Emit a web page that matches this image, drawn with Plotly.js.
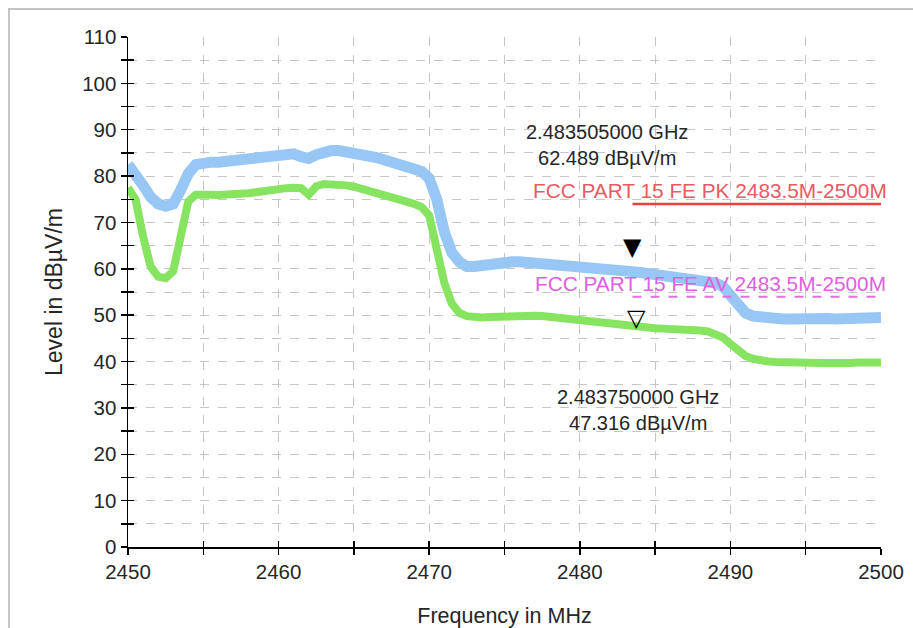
<!DOCTYPE html>
<html>
<head>
<meta charset="utf-8">
<script src="https://cdn.plot.ly/plotly-3.0.1.min.js"></script>
<style>html,body{margin:0;padding:0;background:#fff;}#chart{width:913px;height:628px;}</style>
</head>
<body>
<div id="chart"></div>
<script>
// Frequency grid of the sweep (MHz)
const freqStart = 2450;
const freqStep = 0.5;

// Peak detector trace (dBµV/m), one value every 0.5 MHz from 2450 to 2500
const peakLevel = [
  82.5, 80.5, 78.0, 75.5, 74.0, 73.5, 74.0, 77.0, 80.5, 82.5,
  83.0, 83.0, 83.0, 83.2, 83.3, 83.5, 83.8, 84.0, 84.2, 84.5,
  84.7, 84.8, 84.8, 84.2, 83.8, 84.6, 85.3, 85.5, 85.5, 85.3,
  85.0, 84.8, 84.5, 84.0, 83.5, 83.0, 82.6, 82.2, 81.7, 81.0,
  79.5, 75.0, 68.0, 63.5, 61.5, 60.5, 60.5, 60.8, 61.0, 61.2,
  61.3, 61.5, 61.5, 61.4, 61.3, 61.2, 61.0, 61.0, 60.8, 60.6,
  60.5, 60.3, 60.2, 60.0, 59.8, 59.6, 59.5, 59.4, 59.2, 59.0,
  58.8, 58.6, 58.4, 58.2, 58.0, 57.8, 57.6, 57.4, 57.0, 56.2,
  54.5, 52.0, 50.5, 49.8, 49.5, 49.4, 49.3, 49.2, 49.2, 49.3,
  49.2, 49.1, 49.2, 49.3, 49.2, 49.3, 49.4, 49.3, 49.4, 49.5,
  49.5
];

// Average detector trace (dBµV/m)
const avgLevel = [
  77.5, 75.0, 67.0, 60.5, 58.3, 58.0, 59.5, 68.0, 74.5, 76.0,
  76.2, 76.0, 75.9, 75.9, 76.0, 76.1, 76.3, 76.5, 76.8, 77.0,
  77.2, 77.4, 77.5, 77.4, 76.0, 77.8, 78.3, 78.3, 78.2, 78.0,
  77.7, 77.3, 76.9, 76.5, 76.0, 75.5, 75.0, 74.5, 74.0, 73.3,
  71.5, 64.0, 57.0, 52.5, 50.5, 49.8, 49.5, 49.5, 49.6, 49.7,
  49.8, 49.9, 50.0, 50.0, 49.9, 49.8, 49.6, 49.4, 49.2, 49.0,
  48.8, 48.6, 48.4, 48.2, 48.0, 47.8, 47.6, 47.4, 47.3, 47.3,
  47.2, 47.1, 47.1, 47.0, 46.9, 46.8, 46.7, 46.5, 46.0, 45.2,
  43.8, 42.2, 41.2, 40.6, 40.2, 40.0, 39.9, 39.8, 39.8, 39.7,
  39.7, 39.6, 39.7, 39.7, 39.6, 39.7, 39.7, 39.8, 39.7, 39.8,
  39.8
];

// Limit lines
const limitFreq = [2483.5, 2500];
const pkLimit = [74, 74];
const avLimit = [54, 54];
const pkLimitLabel = 'FCC PART 15 FE PK 2483.5M-2500M';
const avLimitLabel = 'FCC PART 15 FE AV 2483.5M-2500M';

// Markers
const mk1Freq = 2483.505, mk1Level = 62.489;
const mk2Freq = 2483.750, mk2Level = 47.316;
const mk1Label = '2.483505000 GHz<br>62.489 dBµV/m';
const mk2Label = '2.483750000 GHz<br>47.316 dBµV/m';

// Axes
const xRange = [2450, 2500];
const yRange = [0, 110];
const xTitle = 'Frequency in MHz';
const yTitle = 'Level in dBµV/m';

const FONT = 'Liberation Sans, Arial, sans-serif';
const SYM = 'DejaVu Sans, sans-serif';
const GRID = '#c6c6c6';
const TXT = '#262626';

const traces = [
  {x0: freqStart, dx: freqStep, y: peakLevel, type: 'scatter', mode: 'lines',
   line: {color: '#98c7f5', width: 11}, hoverinfo: 'skip'},
  {x0: freqStart, dx: freqStep, y: avgLevel, type: 'scatter', mode: 'lines',
   line: {color: '#86e460', width: 8}, hoverinfo: 'skip'},
  {x: limitFreq, y: pkLimit, type: 'scatter', mode: 'lines',
   line: {color: '#e8403a', width: 2.5}, hoverinfo: 'skip'},
  {x: limitFreq, y: avLimit, type: 'scatter', mode: 'lines',
   line: {color: '#e070e0', width: 2, dash: 'dash'}, hoverinfo: 'skip'},
  // helper trace for the overlay axes that draw the inner half of the tick marks
  {x: limitFreq, y: pkLimit, xaxis: 'x2', yaxis: 'y2', type: 'scatter', mode: 'lines',
   opacity: 0, line: {width: 1}, hoverinfo: 'skip'}
];

const layout = {
  width: 913, height: 628,
  margin: {l: 128, r: 32, t: 37, b: 81},
  paper_bgcolor: '#ffffff', plot_bgcolor: '#ffffff',
  showlegend: false,
  font: {family: FONT, color: TXT},
  xaxis: {
    range: xRange, tick0: 2450, dtick: 10, fixedrange: true,
    showgrid: true, gridcolor: GRID, gridwidth: 1, griddash: 'dash',
    zeroline: false, showline: true, linecolor: '#000', linewidth: 1.5,
    ticks: 'outside', ticklen: 6, tickwidth: 1.5, tickcolor: '#000',
    tickfont: {size: 20.5, color: TXT, family: FONT},
    minor: {tick0: 2450, dtick: 5, ticks: 'outside', ticklen: 6, tickwidth: 1.5, tickcolor: '#000',
            showgrid: true, gridcolor: GRID, gridwidth: 1, griddash: 'dash'},
    title: {text: xTitle, font: {size: 21.5, color: TXT, family: FONT}, standoff: 26}
  },
  yaxis: {
    range: yRange, tick0: 0, dtick: 10, fixedrange: true,
    showgrid: true, gridcolor: GRID, gridwidth: 1, griddash: 'dash',
    zeroline: false, showline: true, linecolor: '#000', linewidth: 1.5,
    ticks: 'outside', ticklen: 6, tickwidth: 1.5, tickcolor: '#000',
    tickfont: {size: 20.5, color: TXT, family: FONT},
    minor: {tick0: 0, dtick: 5, ticks: 'outside', ticklen: 6, tickwidth: 1.5, tickcolor: '#000',
            showgrid: true, gridcolor: GRID, gridwidth: 1, griddash: 'dash'},
    title: {text: yTitle, font: {size: 23, color: TXT, family: FONT}, standoff: 13}
  },
  xaxis2: {
    overlaying: 'x', anchor: 'y2', range: xRange, tick0: 2450, dtick: 5, fixedrange: true,
    showgrid: false, zeroline: false, showline: false, showticklabels: false,
    ticks: 'inside', ticklen: 6, tickwidth: 1.5, tickcolor: '#000'
  },
  yaxis2: {
    overlaying: 'y', anchor: 'x2', side: 'left', range: yRange, tick0: 0, dtick: 5, fixedrange: true,
    showgrid: false, zeroline: false, showline: false, showticklabels: false,
    ticks: 'inside', ticklen: 6, tickwidth: 1.5, tickcolor: '#000'
  },
  annotations: [
    {x: mk1Freq, y: mk1Level, text: '▼', showarrow: false, xanchor: 'center', yanchor: 'bottom',
     yshift: -6, font: {size: 24, color: '#000', family: SYM}},
    {x: mk2Freq, y: mk2Level, text: '▽', showarrow: false, xanchor: 'center', yanchor: 'bottom',
     yshift: -6, font: {size: 24, color: '#000', family: SYM}},
    {x: mk1Freq, y: mk1Level, text: mk1Label, showarrow: false, xanchor: 'center', yanchor: 'middle',
     xshift: -26, yshift: 112, align: 'center', font: {size: 20, color: TXT, family: FONT}},
    {x: mk2Freq, y: mk2Level, text: mk2Label, showarrow: false, xanchor: 'center', yanchor: 'middle',
     xshift: 2, yshift: -82, align: 'center', font: {size: 20, color: TXT, family: FONT}},
    {x: limitFreq[1], y: pkLimit[1], text: pkLimitLabel, showarrow: false, xanchor: 'right', yanchor: 'bottom',
     xshift: 8, yshift: 0, font: {size: 20.8, color: '#e85a62', family: FONT}},
    {x: limitFreq[1], y: avLimit[1], text: avLimitLabel, showarrow: false, xanchor: 'right', yanchor: 'bottom',
     xshift: 7, yshift: 0, font: {size: 20.8, color: '#e060e0', family: FONT}}
  ],
  shapes: [
    {type: 'rect', xref: 'paper', yref: 'paper', x0: -0.158, x1: 1.2, y0: -0.4, y1: 1.055,
     line: {color: '#c4c4c4', width: 2}, fillcolor: 'rgba(0,0,0,0)', layer: 'below'}
  ]
};

Plotly.newPlot('chart', traces, layout, {displayModeBar: false, staticPlot: true});
</script>
</body>
</html>
